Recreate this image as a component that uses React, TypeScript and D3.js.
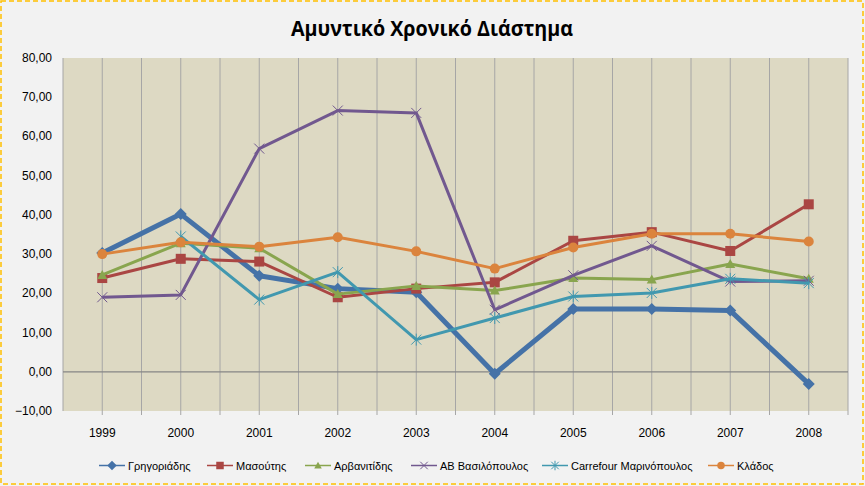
import React from "react";
import * as d3 from "d3";

const years = ["1999", "2000", "2001", "2002", "2003", "2004", "2005", "2006", "2007", "2008"];
const grigoriadis = [30.3, 40.2, 24.5, 21.2, 20.3, -0.5, 16.0, 16.0, 15.6, -3.1];
const masoutis = [23.9, 28.8, 28.1, 19.0, 21.2, 22.8, 33.4, 35.6, 30.8, 42.7];
const arvanitidis = [24.7, 32.8, 31.5, 19.8, 21.9, 20.7, 23.9, 23.5, 27.5, 23.7];
const abVasilopoulos = [19.0, 19.6, 56.9, 66.6, 66.0, 15.8, 24.6, 32.1, 23.0, 23.2];
const carrefour: (number | null)[] = [null, 34.5, 18.4, 25.4, 8.2, 13.7, 19.2, 20.1, 23.7, 22.6];
const kladosValues = [30.0, 33.0, 31.9, 34.3, 30.7, 26.3, 31.7, 35.2, 35.2, 33.2];
const yTicks = [-10, 0, 10, 20, 30, 40, 50, 60, 70, 80];

const seriesNames = ["Γρηγοριάδης", "Μασούτης", "Αρβανιτίδης", "AB Βασιλόπουλος", "Carrefour Μαρινόπουλος", "Κλάδος"];
const seriesValues: (number | null)[][] = [grigoriadis, masoutis, arvanitidis, abVasilopoulos, carrefour, kladosValues];
const colors = ["#4572A7", "#AA4643", "#89A54E", "#71588F", "#4198AF", "#DB843D"];
const markers = ["diamond", "square", "triangle", "x", "star", "circle"];
const widths = [5, 3, 3, 3, 3, 3];

const W = 865, H = 486;
const plot = { left: 63, right: 848, top: 58, bottom: 411 };
const legendLineX = [99, 207, 305, 411, 542, 708];

function Marker({ type, x, y, color, s = 1 }: { type: string; x: number; y: number; color: string; s?: number }) {
  const r = 5 * s;
  if (type === "diamond") return <path d={`M${x},${y - r - 1}L${x + r + 1},${y}L${x},${y + r + 1}L${x - r - 1},${y}Z`} fill={color} />;
  if (type === "square") return <rect x={x - r} y={y - r} width={2 * r} height={2 * r} fill={color} />;
  if (type === "triangle") return <path d={`M${x},${y - r}L${x + r},${y + r * 0.8}L${x - r},${y + r * 0.8}Z`} fill={color} />;
  if (type === "circle") return <circle cx={x} cy={y} r={r} fill={color} />;
  if (type === "x")
    return <path d={`M${x - r},${y - r}L${x + r},${y + r}M${x - r},${y + r}L${x + r},${y - r}`} stroke={color} strokeWidth={1} />;
  return (
    <path
      d={`M${x - r},${y - r}L${x + r},${y + r}M${x - r},${y + r}L${x + r},${y - r}M${x},${y - r - 1}L${x},${y + r + 1}`}
      stroke={color}
      strokeWidth={1}
    />
  );
}

export default function App() {
  const x = d3.scaleBand<string>().domain(years).range([plot.left, plot.right]);
  const y = d3.scaleLinear().domain([-10, 80]).range([plot.bottom, plot.top]);
  const cx = (yr: string) => (x(yr) as number) + x.bandwidth() / 2;
  const line = d3
    .line<number | null>()
    .defined((v) => v !== null)
    .x((_, i) => cx(years[i]))
    .y((v) => y(v as number));
  const grid: number[] = [];
  for (let i = 0; i <= years.length * 2; i++) grid.push(plot.left + (i * x.bandwidth()) / 2);
  const font = "'Liberation Sans', Arial, sans-serif";

  return (
    <div style={{ position: "fixed", left: 0, top: 0 }}>
      <svg width={W} height={H} style={{ display: "block" }}>
        <rect x={0} y={0} width={W} height={H} fill="#F2F2F2" />
        <rect x={1} y={1} width={W - 3} height={H - 3} fill="none" stroke="#FFC000" strokeWidth={1.5} strokeDasharray="5,3" />
        <text
          x={432}
          y={36}
          textAnchor="middle"
          fontFamily="'Open Sans', sans-serif"
          fontWeight="bold"
          fontSize={21}
          textLength={282}
          lengthAdjust="spacingAndGlyphs"
          fill="#000"
        >
          Αμυντικό Χρονικό Διάστημα
        </text>
        <rect x={plot.left} y={plot.top} width={plot.right - plot.left} height={plot.bottom - plot.top} fill="#DDD9C3" />
        {grid.slice(1).map((gx, i) => (
          <line key={i} x1={gx} x2={gx} y1={plot.top} y2={plot.bottom + 4} stroke="#A6A6A6" strokeWidth={1} />
        ))}
        <line x1={plot.left} x2={plot.left} y1={plot.top} y2={plot.bottom} stroke="#A6A6A6" />
        <line x1={plot.left} x2={plot.right} y1={y(0)} y2={y(0)} stroke="#868686" strokeWidth={1.2} />
        {yTicks.map((t) => (
          <text key={t} x={52} y={y(t) + 4} textAnchor="end" fontFamily={font} fontSize={12} fill="#000">
            {d3.format(".2f")(t).replace(".", ",")}
          </text>
        ))}
        {years.map((yr) => (
          <text key={yr} x={cx(yr)} y={437} textAnchor="middle" fontFamily={font} fontSize={12} fill="#000">
            {yr}
          </text>
        ))}
        {seriesValues.map((vals, si) => (
          <g key={si}>
            <path d={line(vals) || ""} fill="none" stroke={colors[si]} strokeWidth={widths[si]} strokeLinejoin="round" />
            {vals.map((v, i) =>
              v === null ? null : <Marker key={i} type={markers[si]} x={cx(years[i])} y={y(v)} color={colors[si]} />
            )}
          </g>
        ))}
        {seriesNames.map((n, si) => {
          const lx = legendLineX[si];
          return (
            <g key={n}>
              <line x1={lx} x2={lx + 26} y1={465.5} y2={465.5} stroke={colors[si]} strokeWidth={1.5} />
              <Marker type={markers[si]} x={lx + 13} y={465.5} color={colors[si]} s={0.75} />
              <text x={lx + 29} y={469.5} fontFamily={font} fontSize={11} fill="#000">
                {n}
              </text>
            </g>
          );
        })}
      </svg>
    </div>
  );
}
